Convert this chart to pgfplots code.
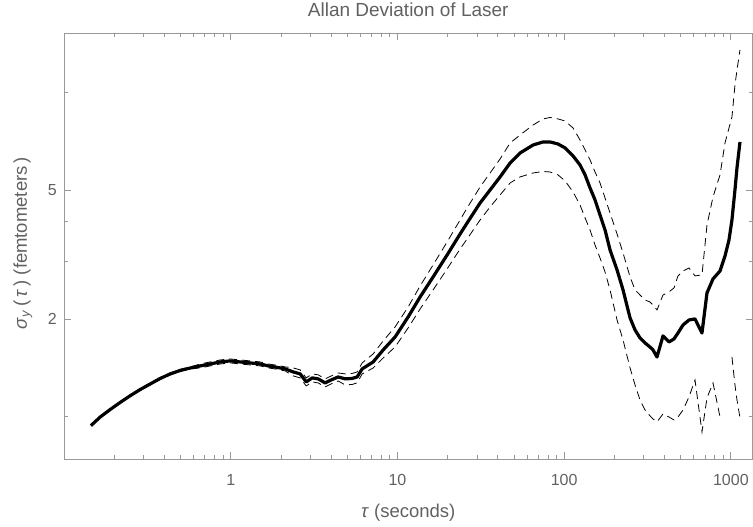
\documentclass[border=0pt]{standalone}
\usepackage{fontspec}
\setmainfont{Liberation Sans}
\usepackage{pgfplots}
\pgfplotsset{compat=1.18}
\definecolor{txt}{gray}{0.38}
\definecolor{frm}{gray}{0.6}
\begin{document}
\begin{tikzpicture}
\begin{axis}[
  at={(0,0)}, anchor=south west,
  scale only axis, width=688.5pt, height=426pt,
  xmode=log, ymode=log,
  xmin=0.1, xmax=1348, ymin=0.739, ymax=15.26,
  axis line style={frm, line width=0.8pt},
  every tick/.style={frm, line width=0.8pt},
  tick align=inside,
  major tick length=7pt, minor tick length=4pt,
  xtick={1,10,100,1000}, xticklabels={1,10,100,1000},
  minor xtick={0.2,0.3,0.4,0.5,0.6,0.7,0.8,0.9,2,3,4,5,6,7,8,9,20,30,40,50,60,70,80,90,200,300,400,500,600,700,800,900},
  ytick={2,5}, yticklabels={2,5},
  minor ytick={1,3,4,10},
  /pgf/number format/assume math mode=true,
  xticklabel style={anchor=base, inner sep=0pt, yshift=-27pt, font=\fontsize{16}{19}\selectfont, text=txt},
  yticklabel style={anchor=east, inner sep=0pt, xshift=-7pt, font=\fontsize{16}{19}\selectfont, text=txt},
  title={Allan Deviation of Laser},
  title style={at={(axis description cs:0.5,1)}, anchor=base, yshift=10pt, inner sep=0pt, font=\fontsize{19}{22}\selectfont, text=txt},
  xlabel={\textit{τ} (seconds)},
  xlabel style={at={(axis description cs:0.5,0)}, anchor=base, yshift=-59pt, inner sep=0pt, font=\fontsize{18.5}{22}\selectfont, text=txt},
  ylabel={\textit{σ}\textsubscript{\textit{y}}\,(\,\textit{τ}\,) (femtometers\,)},
  ylabel style={at={([xshift=-37pt,yshift=3pt]axis description cs:0,0.5)}, anchor=base, inner sep=0pt, font=\fontsize{18.5}{22}\selectfont, text=txt},
  unbounded coords=jump,
  clip=true,
]
\addplot[black, line width=0.8pt, dash pattern=on 8pt off 5pt] coordinates {
(0.1452,0.941)(0.1651,1.000)(0.1895,1.055)(0.2175,1.109)(0.2497,1.164)(0.2867,1.216)(0.3292,1.269)(0.3779,1.319)(0.4338,1.363)(0.4981,1.397)(0.5718,1.421)(0.6566,1.452)(0.7535,1.473)(0.8651,1.494)(0.9931,1.505)(1.140,1.494)(1.309,1.484)(1.503,1.473)(1.678,1.452)(1.848,1.441)(2.122,1.422)(2.370,1.412)(2.610,1.392)(2.836,1.315)(3.081,1.353)(3.346,1.344)(3.686,1.306)(4.004,1.333)(4.411,1.362)(4.859,1.353)(5.351,1.357)(5.734,1.372)(6.144,1.463)(7.150,1.559)(8.208,1.710)(9.687,1.890)(11.59,2.177)(13.68,2.528)(16.37,2.936)(19.86,3.456)(23.77,4.042)(26.18,4.401)(31.32,5.109)(35.96,5.643)(41.28,6.235)(47.40,6.984)(54.40,7.393)(65.19,7.938)(74.72,8.284)(82.33,8.373)(91.92,8.284)(101.3,8.166)(113.1,7.769)(124.5,7.135)(133.5,6.645)(143.0,6.191)(153.2,5.683)(164.1,5.256)(175.9,4.725)(188.5,4.248)(207.6,3.659)(225.5,3.196)(248.5,2.696)(266.2,2.458)(285.1,2.371)(305.5,2.288)(327.3,2.256)(341.2,2.208)(360.6,2.132)(391.6,2.371)(425.6,2.423)(456.0,2.493)(481.9,2.715)(516.4,2.812)(560.9,2.873)(609.3,2.715)(671.0,2.734)(719.0,3.899)(781.2,4.759)(860.6,5.565)(922.0,6.984)(974.2,7.769)(1015,8.404)(1058,10.55)(1088,11.73)(1134,13.53)
};
\addplot[black, line width=0.8pt, dash pattern=on 8pt off 5pt] coordinates {
(0.1452,0.933)(0.1651,0.9925)(0.1895,1.047)(0.2175,1.101)(0.2497,1.154)(0.2867,1.206)(0.3292,1.251)(0.3779,1.301)(0.4338,1.343)(0.4981,1.377)(0.5718,1.401)(0.6566,1.412)(0.7535,1.432)(0.8651,1.452)(0.9931,1.463)(1.140,1.452)(1.309,1.442)(1.503,1.432)(1.678,1.412)(1.848,1.401)(2.122,1.382)(2.370,1.334)(2.610,1.315)(2.836,1.242)(3.081,1.278)(3.346,1.269)(3.686,1.233)(4.004,1.260)(4.411,1.287)(4.859,1.251)(5.351,1.255)(5.734,1.269)(6.144,1.353)(7.150,1.411)(8.208,1.515)(9.687,1.639)(11.59,1.876)(13.68,2.147)(16.37,2.458)(19.86,2.853)(23.77,3.289)(26.18,3.531)(31.32,4.041)(35.96,4.432)(41.28,4.827)(47.40,5.256)(54.40,5.486)(65.19,5.643)(74.72,5.704)(82.33,5.683)(91.92,5.565)(101.3,5.333)(113.1,4.931)(124.5,4.495)(133.5,4.100)(143.0,3.764)(153.2,3.383)(164.1,3.084)(175.9,2.792)(188.5,2.458)(207.6,1.985)(225.5,1.722)(248.5,1.411)(266.2,1.251)(285.1,1.124)(305.5,1.047)(327.3,1.004)(341.2,0.982)(360.6,0.962)(391.6,1.018)(425.6,0.996)(456.0,0.975)(481.9,0.996)(516.4,1.047)(560.9,1.149)(609.3,1.296)(671.0,0.896)(719.0,1.141)(781.2,1.269)(860.6,0.996)(922.0,nan)(974.2,nan)(1015,1.526)(1058,1.251)(1088,1.124)(1134,0.989)
};
\addplot[black, line width=3.2pt, line join=round] coordinates {
(0.1452,0.937)(0.1651,0.9965)(0.1895,1.051)(0.2175,1.105)(0.2497,1.159)(0.2867,1.211)(0.3292,1.260)(0.3779,1.310)(0.4338,1.353)(0.4981,1.387)(0.5718,1.411)(0.6566,1.432)(0.7535,1.452)(0.8651,1.473)(0.9931,1.484)(1.140,1.473)(1.309,1.463)(1.503,1.452)(1.678,1.432)(1.848,1.421)(2.122,1.402)(2.370,1.372)(2.610,1.353)(2.836,1.278)(3.081,1.315)(3.346,1.306)(3.686,1.269)(4.004,1.296)(4.411,1.324)(4.859,1.306)(5.351,1.310)(5.734,1.324)(6.144,1.402)(7.150,1.473)(8.208,1.604)(9.687,1.760)(11.59,2.028)(13.68,2.338)(16.37,2.696)(19.86,3.151)(23.77,3.659)(26.18,3.956)(31.32,4.560)(35.96,5.001)(41.28,5.486)(47.40,6.059)(54.40,6.505)(65.19,6.887)(74.72,7.035)(82.33,7.035)(91.92,6.934)(101.3,6.741)(113.1,6.368)(124.5,5.973)(133.5,5.565)(143.0,5.072)(153.2,4.658)(164.1,4.188)(175.9,3.764)(188.5,3.265)(207.6,2.833)(225.5,2.458)(248.5,2.014)(266.2,1.849)(285.1,1.747)(305.5,1.686)(327.3,1.638)(341.2,1.604)(360.6,1.526)(391.6,1.772)(425.6,1.698)(456.0,1.735)(481.9,1.810)(516.4,1.916)(560.9,1.985)(609.3,2.000)(671.0,1.810)(719.0,2.406)(781.2,2.657)(860.6,2.812)(922.0,3.129)(974.2,3.506)(1015,4.042)(1058,5.001)(1088,5.848)(1134,7.035)
};
\end{axis}
\pgfresetboundingbox
\path[use as bounding box] (-64pt,-68pt) rectangle (689pt,459pt);
\end{tikzpicture}
\end{document}
